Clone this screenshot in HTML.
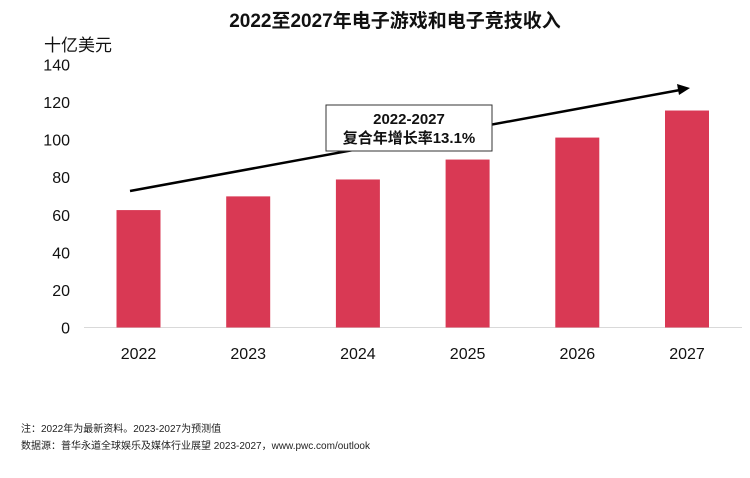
<!DOCTYPE html>
<html><head><meta charset="utf-8">
<style>
body{margin:0;background:#fff;width:750px;height:473px;overflow:hidden;font-family:"Liberation Sans","Noto Sans CJK SC",sans-serif;}
</style></head>
<body>
<svg id="chart" width="750" height="473" xmlns="http://www.w3.org/2000/svg" font-family="Liberation Sans, Noto Sans CJK SC, sans-serif">
<text x="395" y="27" text-anchor="middle" font-size="19" font-weight="bold" fill="#111">2022至2027年电子游戏和电子竞技收入</text>
<text x="44" y="51" font-size="17" fill="#111">十亿美元</text>
<g id="yticks"></g>
<line x1="84" y1="327.5" x2="742" y2="327.5" stroke="#d9d9d9" stroke-width="1"/>
<g id="bars"></g>
<g id="xlabels"></g>
<line x1="130" y1="191" x2="680" y2="90" stroke="#000" stroke-width="2.5"/>
<polygon points="690,88 677,84 679,95" fill="#000"/>
<rect x="326" y="105" width="166" height="46" fill="#fff" stroke="#333" stroke-width="1"/>
<text x="409" y="124" text-anchor="middle" font-size="15" font-weight="bold" fill="#111">2022-2027</text>
<text x="409" y="143" text-anchor="middle" font-size="15" font-weight="bold" fill="#111">复合年增长率13.1%</text>
<text x="21" y="432" font-size="10" fill="#222">注：2022年为最新资料。2023-2027为预测值</text>
<text x="21" y="449" font-size="10" fill="#222">数据源：普华永道全球娱乐及媒体行业展望 2023-2027，www.pwc.com/outlook</text>
</svg>
<script>
const categories=["2022","2023","2024","2025","2026","2027"];
const revenues=[62.5,69.8,78.8,89.4,101.1,115.5];
const yTicks=[0,20,40,60,80,100,120,140];
const NS="http://www.w3.org/2000/svg";
const y0=327.5,yTop=64.5,vMax=140;
function yScale(v){return y0-(v/vMax)*(y0-yTop);}
function xScale(i){return 138.5+i*109.7;}
const bw=44;
const bars=document.getElementById('bars'),xl=document.getElementById('xlabels'),yt=document.getElementById('yticks');
yTicks.forEach(t=>{
  const tx=document.createElementNS(NS,'text');
  
  
  tx.setAttribute('x',70);tx.setAttribute('y',yScale(t)+6);
  tx.setAttribute('text-anchor','end');tx.setAttribute('font-size','16');tx.setAttribute('fill','#111');
  tx.textContent=t;yt.appendChild(tx);
});
categories.forEach((c,i)=>{
  const r=document.createElementNS(NS,'rect');
  
  
  const y=yScale(revenues[i]);
  r.setAttribute('x',xScale(i)-bw/2);r.setAttribute('y',y);
  r.setAttribute('width',bw);r.setAttribute('height',y0-y);
  r.setAttribute('fill','#d93954');
  bars.appendChild(r);
  const tx=document.createElementNS(NS,'text');
  
  
  tx.setAttribute('x',xScale(i));tx.setAttribute('y',359);
  tx.setAttribute('text-anchor','middle');tx.setAttribute('font-size','16');tx.setAttribute('fill','#111');
  tx.textContent=c;xl.appendChild(tx);
});
</script>
</body></html>
